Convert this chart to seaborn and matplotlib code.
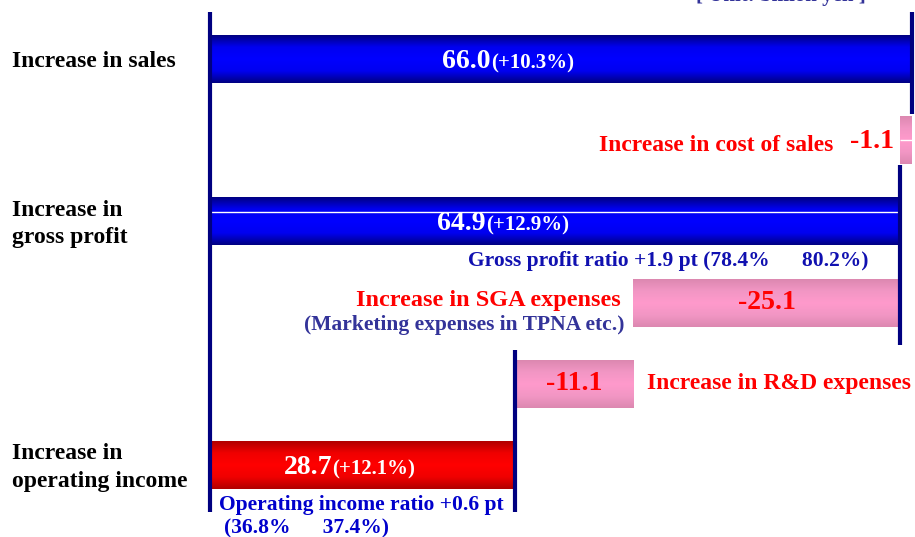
import numpy as np
import pandas as pd
import matplotlib
matplotlib.use("Agg")
import matplotlib.pyplot as plt
from matplotlib.colors import LinearSegmentedColormap
import seaborn as sns

# waterfall data (billion yen)
items = ["Sales", "Cost of sales", "Gross profit", "SGA expenses", "R&D expenses", "Operating income"]
changes = [66.0, -1.1, 64.9, -25.1, -11.1, 28.7]
is_total = [True, False, True, False, False, True]
growth = ["(+10.3%)", None, "(+12.9%)", None, None, "(+12.1%)"]
bar_kind = ["blue", "pink", "blue", "pink", "pink", "red"]

left_labels = ["Increase in sales", None, "Increase in\ngross profit", None, None,
               "Increase in\noperating income"]

# running totals -> start / end of each bar
starts, ends = [], []
run = 0.0
for v, tot in zip(changes, is_total):
    if tot:
        starts.append(0.0)
        ends.append(v)
        run = v
    else:
        starts.append(run)
        ends.append(run + v)
        run = run + v

df = pd.DataFrame({
    "item": items,
    "left": [min(s, e) for s, e in zip(starts, ends)],
    "size": [abs(e - s) for s, e in zip(starts, ends)],
    "kind": bar_kind,
})

NAVY = "#000080"
RED = "#FF0000"
cmaps = {
    "blue": LinearSegmentedColormap.from_list("b", ["#000080", "#0000F0", "#0000FF", "#0000F0", "#000080"]),
    "red": LinearSegmentedColormap.from_list("r", ["#B00000", "#F00000", "#FF0000", "#F00000", "#B00000"]),
    "pink": LinearSegmentedColormap.from_list("p", ["#DC88B0", "#F296C4", "#FF9ACC", "#F296C4", "#DC88B0"]),
}
flat = {"blue": "#0000FF", "red": "#FF0000", "pink": "#FF99CC"}

sns.set_style("white")
plt.rcParams["font.family"] = ["Liberation Serif", "DejaVu Serif"]
plt.rcParams["font.weight"] = "bold"

fig = plt.figure(figsize=(9.15, 5.37), dpi=100)
ax = fig.add_axes([0, 0, 1, 1])

sns.barplot(data=df, x="size", y="item", orient="h", order=items,
            color="#0000FF", left=df["left"].values, width=0.59,
            linewidth=0, ax=ax, zorder=2)

# gradient fill for each bar
grad = np.linspace(0, 1, 256).reshape(-1, 1)
for patch, kind in zip(ax.patches, df["kind"]):
    patch.set_facecolor(flat[kind])
    bb = patch.get_bbox()
    im = ax.imshow(grad, cmap=cmaps[kind], aspect="auto", zorder=3,
                   extent=[bb.x0, bb.x1, bb.y1, bb.y0], interpolation="bilinear")
    im.set_clip_path(patch)

# thin white highlight lines
ax.hlines(1, ends[1], starts[1], color="white", lw=1, zorder=4)
ax.hlines(2 - 0.12, 0, changes[2], color="white", lw=1, zorder=4)

# connector lines
ax.vlines(0, -0.58, 5.58, color=NAVY, lw=3, zorder=5)
ax.vlines(ends[0], -0.58, 0.68, color=NAVY, lw=3, zorder=5)
ax.vlines(ends[2], 1.31, 3.52, color=NAVY, lw=3, zorder=5)
ax.vlines(ends[5], 3.58, 5.58, color=NAVY, lw=3, zorder=5)

ax.set_xlim(-19.74, 66.28)
ax.set_ylim(5.887, -0.727)
ax.axis("off")

# left category labels
for i, lab in enumerate(left_labels):
    if lab:
        ax.text(-18.6, i + 0.03, lab, ha="left", va="center", fontsize=17,
                color="black", linespacing=1.4, zorder=6)

# totals inside bars
for i, (v, g) in enumerate(zip(changes, growth)):
    if g:
        split = 0.4 * v
        ax.text(split, i + 0.03, f"{v:.1f}", ha="right", va="center",
                fontsize=20, color="white", zorder=6)
        ax.text(split, i + 0.05, g, ha="left", va="center",
                fontsize=15, color="white", zorder=6)

# change annotations
ax.text(ends[1] - 6.3, 1.07, "Increase in cost of sales", ha="right", va="center",
        fontsize=17, color=RED, zorder=6)
ax.text(ends[1] - 4.7, 1.02, f"{changes[1]:.1f}", ha="left", va="center",
        fontsize=20, color=RED, zorder=6)

ax.text(24.3, 2.49, "Gross profit ratio +1.9 pt (78.4%      80.2%)", ha="left",
        va="center", fontsize=15.5, color="#1010B0", zorder=6)

ax.text(38.6, 2.97, "Increase in SGA expenses", ha="right", va="center",
        fontsize=17.5, color=RED, zorder=6)
ax.text(39.0, 3.28, "(Marketing expenses in TPNA etc.)", ha="right", va="center",
        fontsize=15.5, color="#333399", zorder=6)
ax.text((starts[3] + ends[3]) / 2, 3.0, f"{changes[3]:.1f}", ha="center", va="center",
        fontsize=20, color=RED, zorder=6)

ax.text((starts[4] + ends[4]) / 2, 4.0, f"{changes[4]:.1f}", ha="center", va="center",
        fontsize=20, color=RED, zorder=6)
ax.text(41.1, 4.0, "Increase in R&D expenses", ha="left", va="center",
        fontsize=17, color=RED, zorder=6)

ax.text(0.85, 5.49, "Operating income ratio +0.6 pt", ha="left", va="center",
        fontsize=15.5, color="#0000CC", zorder=6)
ax.text(1.3, 5.78, "(36.8%      37.4%)", ha="left", va="center",
        fontsize=15.5, color="#0000CC", zorder=6)

# unit note, cut off at the top edge as in the source
ax.text(45.7, -0.72, "[ Unit: billion yen ]", ha="left", va="baseline",
        fontsize=15, color="#333399", zorder=6)

fig.savefig("out.png", dpi=100)
